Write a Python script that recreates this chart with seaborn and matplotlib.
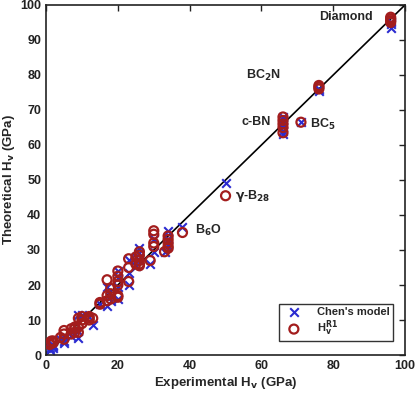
import pandas as pd
import matplotlib.pyplot as plt
import seaborn as sns

# experimental vs theoretical Vickers hardness (GPa)
chen_x = [96, 96, 96, 76, 76, 66, 66, 66, 66, 66, 66, 71, 50, 38,
          34, 34, 34, 33, 30, 30, 29, 26, 26, 26, 25, 25, 23, 23, 23,
          20, 20, 20, 20, 18, 18, 17, 17, 15, 13, 12, 10, 9, 9, 9, 8, 7,
          5, 5, 5, 4, 2, 2, 2, 1, 1, 1.5]
chen_y = [93.5, 94.5, 95, 75.5, 76, 63, 64, 65, 66, 67, 68, 66.5, 49, 36.5,
          35.5, 33, 31, 29.5, 33, 29.5, 26, 30.5, 29, 27, 28, 25.5, 20, 27, 23.5,
          24, 22, 19.5, 16, 17, 15.5, 14, 19.5, 14.5, 8.5, 11, 11.5, 11.5, 5, 7, 6, 5.5,
          4, 5.5, 3.5, 4.5, 2, 2.5, 3, 1.5, 2, 3]

r1_x = [96, 96, 96, 96, 76, 76, 76, 66, 66, 66, 66, 66, 71, 50, 38,
        34, 34, 34, 34, 34, 33, 30, 30, 30, 30, 29, 26, 26, 26, 26, 26, 25, 25,
        23, 23, 23, 20, 20, 20, 20, 20, 20, 18, 18, 18, 17, 17, 17, 15, 15,
        13, 12, 12, 12, 10, 10, 10, 9, 9, 9, 8, 8, 8, 7, 7, 5, 5, 5, 4,
        2, 2, 1, 1, 1.5]
r1_y = [96.5, 96, 95.5, 95, 77, 76.5, 76, 63.5, 65, 66, 67, 68, 66.5, 45.5, 35,
        34, 33, 32, 31, 30.5, 29.5, 35.5, 34.5, 32, 31, 27, 29.5, 28.5, 27, 26, 25.5, 28, 26,
        27.5, 25, 21, 24, 22.5, 21, 20, 17, 16.5, 19, 17.5, 16, 21.5, 17, 15.5, 14.5, 15,
        10.5, 11, 10.5, 10, 11, 10, 9, 10.5, 8, 6.5, 8, 7.5, 6.5, 7.5, 6, 7, 6, 4.5, 5,
        4, 3.5, 3.5, 3, 4]

labels = ['Diamond', 'BC$_2$N', 'c-BN', 'BC$_5$', r'$\gamma$-B$_{28}$', 'B$_6$O']
label_x = [91, 60.5, 58.5, 73.5, 52.5, 41.5]
label_y = [96.5, 80, 66.5, 66, 45.5, 35.5]
label_ha = ['right', 'center', 'center', 'left', 'left', 'left']

chen = pd.DataFrame({'exp': chen_x, 'theo': chen_y})
r1 = pd.DataFrame({'exp': r1_x, 'theo': r1_y})

sns.set_style('white')
plt.rcParams['font.family'] = ['Liberation Sans', 'DejaVu Sans']
plt.rcParams['font.weight'] = 'bold'
plt.rcParams['mathtext.default'] = 'bf'

fig = plt.figure(figsize=(4.15, 3.96), dpi=100)
ax = fig.add_axes([0.111, 0.1035, 0.865, 0.884])

ax.plot([0, 100], [0, 100], color='black', lw=1.2, zorder=1)
sns.scatterplot(data=chen, x='exp', y='theo', marker='x', color='#2a2ad0',
                s=38, linewidth=1.5, label="Chen's model", ax=ax, zorder=2)
sns.scatterplot(data=r1, x='exp', y='theo', marker='o', s=42,
                facecolor='none', edgecolor='#a31d1d', linewidth=1.6,
                label='H$_v^{R1}$', ax=ax, zorder=3)

for t, x, y, ha in zip(labels, label_x, label_y, label_ha):
    ax.text(x, y, t, ha=ha, va='center', fontsize=9, fontweight='bold')

ax.set_xlim(0, 100)
ax.set_ylim(0, 100)
ax.set_xticks(range(0, 101, 20))
ax.set_yticks(range(0, 101, 10))
ax.tick_params(direction='in', top=True, right=True, length=4, width=1,
               labelsize=9, colors='#222222', labelcolor='#222222')
for lab in ax.get_xticklabels() + ax.get_yticklabels():
    lab.set_fontweight('bold')
for sp in ax.spines.values():
    sp.set_color('#222222')
    sp.set_linewidth(1.2)
ax.set_xlabel('Experimental H$_v$ (GPa)', fontsize=9.5, fontweight='bold', labelpad=2)
ax.set_ylabel('Theoretical H$_v$ (GPa)', fontsize=9.5, fontweight='bold', labelpad=2)

leg = ax.legend(loc='lower right', bbox_to_anchor=(0.975, 0.03), fontsize=8,
                frameon=True, fancybox=False, edgecolor='black', borderpad=0.25,
                labelspacing=0.15, handletextpad=1.0, handlelength=2.2,
                borderaxespad=0.3)
leg.get_frame().set_linewidth(1)

fig.savefig('out.png', dpi=100)
